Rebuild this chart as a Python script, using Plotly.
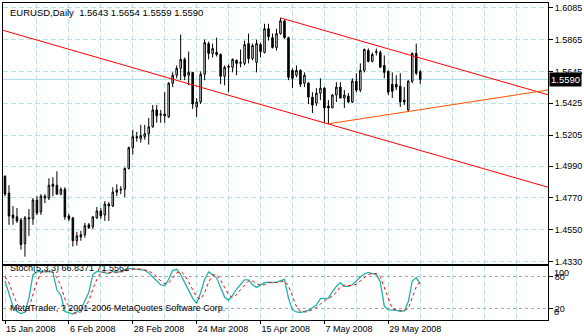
import plotly.graph_objects as go

# ---------------- data ----------------
open_ = [1.4920,1.4803,1.4652,1.4639,1.4618,1.4453,1.4625,1.4625,1.4755,1.4673,
1.4769,1.4769,1.4865,1.4858,1.4796,1.4830,1.4645,1.4632,1.4474,1.4515,
1.4515,1.4584,1.4570,1.4632,1.4680,1.4652,1.4728,1.4714,1.4824,1.4824,
1.4830,1.4974,1.5118,1.5194,1.5180,1.5194,1.5214,1.5262,1.5379,1.5351,
1.5351,1.5331,1.5564,1.5619,1.5667,1.5729,1.5619,1.5639,1.5399,1.5434,
1.5626,1.5838,1.5770,1.5777,1.5763,1.5612,1.5674,1.5674,1.5722,1.5701,
1.5701,1.5838,1.5735,1.5708,1.5831,1.5777,1.5941,1.5879,1.5811,1.5907,
1.5996,1.5879,1.5653,1.5619,1.5653,1.5564,1.5564,1.5468,1.5427,1.5495,
1.5530,1.5406,1.5393,1.5482,1.5537,1.5461,1.5475,1.5434,1.5578,1.5516,
1.5653,1.5790,1.5715,1.5777,1.5777,1.5687,1.5646,1.5557,1.5557,1.5543,
1.5447,1.5379,1.5578,1.5770,1.5643]

high = [1.4926,1.4858,1.4714,1.4700,1.4632,1.4645,1.4693,1.4769,1.4782,1.4796,
1.4796,1.4906,1.4913,1.4954,1.4844,1.4844,1.4659,1.4639,1.4536,1.4543,
1.4597,1.4597,1.4645,1.4707,1.4700,1.4748,1.4741,1.4844,1.4865,1.4851,
1.4981,1.5125,1.5242,1.5228,1.5276,1.5276,1.5324,1.5413,1.5413,1.5379,
1.5502,1.5571,1.5639,1.5687,1.5900,1.5742,1.5783,1.5639,1.5461,1.5646,
1.5866,1.5852,1.5838,1.5879,1.5770,1.5687,1.5694,1.5735,1.5729,1.5797,
1.5859,1.5907,1.5838,1.5866,1.5845,1.5975,1.5975,1.5907,1.5941,1.6016,
1.6003,1.5886,1.5667,1.5687,1.5660,1.5639,1.5571,1.5502,1.5530,1.5598,
1.5537,1.5447,1.5489,1.5571,1.5571,1.5516,1.5495,1.5598,1.5633,1.5701,
1.5804,1.5804,1.5777,1.5804,1.5790,1.5756,1.5653,1.5639,1.5619,1.5633,
1.5537,1.5585,1.5777,1.5838,1.5654]

low = [1.4782,1.4584,1.4584,1.4597,1.4412,1.4364,1.4508,1.4584,1.4652,1.4652,
1.4734,1.4755,1.4782,1.4796,1.4789,1.4618,1.4611,1.4433,1.4440,1.4474,
1.4495,1.4556,1.4556,1.4625,1.4625,1.4611,1.4611,1.4707,1.4782,1.4796,
1.4776,1.4968,1.5070,1.5160,1.5153,1.5173,1.5139,1.5256,1.5290,1.5290,
1.5290,1.5324,1.5537,1.5598,1.5585,1.5585,1.5550,1.5386,1.5331,1.5420,
1.5585,1.5729,1.5742,1.5749,1.5557,1.5550,1.5502,1.5639,1.5619,1.5674,
1.5687,1.5701,1.5722,1.5639,1.5742,1.5770,1.5859,1.5804,1.5790,1.5900,
1.5872,1.5585,1.5530,1.5605,1.5537,1.5537,1.5420,1.5358,1.5406,1.5447,
1.5290,1.5283,1.5393,1.5434,1.5461,1.5393,1.5427,1.5427,1.5502,1.5502,
1.5639,1.5708,1.5708,1.5756,1.5674,1.5598,1.5482,1.5461,1.5516,1.5399,
1.5413,1.5365,1.5564,1.5619,1.5559]

close = [1.4796,1.4645,1.4632,1.4611,1.4447,1.4632,1.4632,1.4755,1.4666,1.4782,
1.4782,1.4858,1.4851,1.4796,1.4830,1.4639,1.4625,1.4474,1.4508,1.4501,
1.4577,1.4563,1.4639,1.4680,1.4645,1.4728,1.4714,1.4810,1.4810,1.4830,
1.4974,1.5118,1.5194,1.5187,1.5201,1.5214,1.5262,1.5379,1.5338,1.5345,
1.5338,1.5564,1.5619,1.5667,1.5729,1.5612,1.5639,1.5420,1.5434,1.5626,
1.5845,1.5770,1.5804,1.5763,1.5612,1.5674,1.5681,1.5729,1.5701,1.5708,
1.5831,1.5735,1.5825,1.5838,1.5783,1.5941,1.5886,1.5811,1.5907,1.5996,
1.5879,1.5605,1.5598,1.5653,1.5557,1.5619,1.5468,1.5413,1.5495,1.5530,
1.5393,1.5393,1.5482,1.5537,1.5461,1.5482,1.5434,1.5578,1.5516,1.5653,
1.5797,1.5715,1.5763,1.5783,1.5674,1.5639,1.5502,1.5509,1.5537,1.5434,
1.5434,1.5578,1.5770,1.5633,1.5590]

stoch_k = [72,50,25,15,11,14,40,84,89,90,
89,90,88,55,45,15,12,10,14,18,
35,51,84,90,89,88,86,90,88,90,
93,95,95,94,94,92,87,80,72,65,
63,75,92,94,84,70,55,40,30,50,
75,89,84,78,60,42,36,45,57,66,
74,74,65,60,65,69,70,69,70,73,
75,40,18,14,13,15,17,22,27,39,
39,40,52,62,69,62,62,65,72,80,
85,88,86,84,70,25,18,18,17,15,
16,33,72,78,66.8371]

stoch_d = [80,68,48,30,17,13,22,46,71,88,
89,90,89,78,63,38,24,12,12,14,
22,35,57,75,88,89,88,88,88,89,
90,93,94,95,94,93,91,86,80,72,
67,68,77,87,90,83,70,55,42,38,
50,70,83,84,74,60,46,41,46,56,
65,72,72,67,64,65,68,70,69,70,
72,63,44,24,15,14,15,18,22,29,
35,39,44,51,61,64,64,63,66,72,
79,84,86,86,80,60,38,20,18,17,
16,21,40,61,71.5562]

# trend lines (bar index, price)
upper_line_x = [69, 136]
upper_line_y = [1.6016, 1.5484]
lower_line_x = [-0.5, 136]
lower_line_y = [1.5930, 1.4844]
orange_line_x = [81, 136]
orange_line_y = [1.5283, 1.5517]

date_tick_idx = [0, 16, 32, 48, 64, 80, 96]
date_tick_text = ["15 Jan 2008", "6 Feb 2008", "28 Feb 2008", "24 Mar 2008",
                  "15 Apr 2008", "7 May 2008", "29 May 2008"]
grid_idx = [8, 16, 24, 32, 40, 48, 56, 64, 72, 80, 88, 96, 104, 112, 120, 128]
price_ticks = ["1.6085", "1.5865", "1.5645", "1.5425", "1.5205",
               "1.4990", "1.4770", "1.4550", "1.4330"]
stoch_levels = [20, 80]

x = list(range(len(close)))

GRID = "#B4E2E6"
GDASH = "5px,3px"
FONT = "Liberation Sans, Arial, sans-serif"

fig = go.Figure()
fig.add_trace(go.Candlestick(
    x=x, open=open_, high=high, low=low, close=close,
    increasing=dict(line=dict(color="black", width=1), fillcolor="white"),
    decreasing=dict(line=dict(color="black", width=1), fillcolor="black"),
    whiskerwidth=0, hoverinfo="skip", xaxis="x", yaxis="y"))

for lx, ly, col in [(lower_line_x, lower_line_y, "#FF0000"),
                    (upper_line_x, upper_line_y, "#FF0000"),
                    (orange_line_x, orange_line_y, "#FF5000")]:
    fig.add_trace(go.Scatter(x=lx, y=ly, mode="lines",
                             line=dict(color=col, width=1),
                             hoverinfo="skip", xaxis="x", yaxis="y"))

fig.add_trace(go.Scatter(x=x, y=stoch_k, mode="lines",
                         line=dict(color="#20B2AA", width=1.3),
                         hoverinfo="skip", xaxis="x2", yaxis="y2"))
fig.add_trace(go.Scatter(x=x, y=stoch_d, mode="lines",
                         line=dict(color="#FF0000", width=1, dash="3px,3px"),
                         hoverinfo="skip", xaxis="x2", yaxis="y2"))

xr = [-0.5, 136]
fig.update_layout(
    width=584, height=336,
    margin=dict(l=2, r=36, t=2, b=14),
    paper_bgcolor="white", plot_bgcolor="white",
    showlegend=False,
    boxgap=0.45,
    font=dict(family=FONT, size=9, color="black"),
    xaxis=dict(domain=[0, 1], anchor="y", range=xr, showticklabels=False,
               ticks="", tickvals=grid_idx, showgrid=True, gridcolor=GRID,
               griddash=GDASH, gridwidth=1, showline=True, mirror=True,
               linecolor="black", linewidth=1, zeroline=False,
               rangeslider=dict(visible=False)),
    yaxis=dict(domain=[0.1781, 1], anchor="x", range=[1.4316, 1.6119],
               side="right", tickvals=[float(t) for t in price_ticks],
               ticktext=price_ticks, ticks="outside", ticklen=4,
               tickcolor="black", showgrid=True, gridcolor=GRID,
               griddash=GDASH, showline=True, mirror=True,
               linecolor="black", linewidth=1, zeroline=False),
    xaxis2=dict(domain=[0, 1], anchor="y2", range=xr,
                tickvals=date_tick_idx, ticktext=date_tick_text,
                ticks="outside", ticklen=3, tickcolor="black",
                ticklabelposition="outside right",
                showgrid=True, gridcolor=GRID, griddash=GDASH,
                minor=dict(tickvals=grid_idx, showgrid=True, gridcolor=GRID,
                           griddash=GDASH, ticks=""),
                showline=True, mirror=True, linecolor="black", linewidth=1,
                zeroline=False),
    yaxis2=dict(domain=[0, 0.1719], anchor="x2", range=[-1, 101],
                side="right", tickvals=stoch_levels, ticks="outside",
                ticklen=4, tickcolor="black", showgrid=True,
                gridcolor="#A9A9A9", griddash="3px,3px", showline=True,
                mirror=True, linecolor="black", linewidth=1, zeroline=False),
)

fig.add_shape(type="line", xref="x domain", x0=0, x1=1, yref="y",
              y0=close[-1], y1=close[-1], line=dict(color="#A6DCE4", width=1),
              layer="below")

title = (f"EURUSD,Daily\u00a0\u00a0{open_[-1]:.4f}\u00a0{high[-1]:.4f}"
         f"\u00a0{low[-1]:.4f}\u00a0{close[-1]:.4f}")
fig.add_annotation(text=title, xref="paper", yref="paper", x=0.009, y=0.969,
                   xanchor="left", yanchor="middle", showarrow=False,
                   font=dict(size=9.5))
fig.add_annotation(text=f"Stoch(5,3,3) {stoch_k[-1]:.4f} {stoch_d[-1]:.4f}",
                   xref="paper", yref="paper", x=0.009, y=0.1625,
                   xanchor="left", yanchor="middle", showarrow=False)
fig.add_annotation(text="MetaTrader, ? 2001-2006 MetaQuotes Software Corp.",
                   xref="paper", yref="paper", x=0.009, y=0.0375,
                   xanchor="left", yanchor="middle", showarrow=False)
fig.add_annotation(text=f"{close[-1]:.4f}", xref="paper", yref="y", x=1,
                   y=close[-1], xanchor="left", yanchor="middle", xshift=1,
                   showarrow=False, bgcolor="black", borderpad=1,
                   font=dict(color="white", size=9.5))
fig.add_annotation(text="100", xref="paper", yref="y2", x=1, y=100,
                   xanchor="left", yanchor="top", xshift=4, showarrow=False)
fig.add_annotation(text="0", xref="paper", yref="y2", x=1, y=0,
                   xanchor="left", yanchor="bottom", xshift=4, showarrow=False)

fig.write_html("out.html")
